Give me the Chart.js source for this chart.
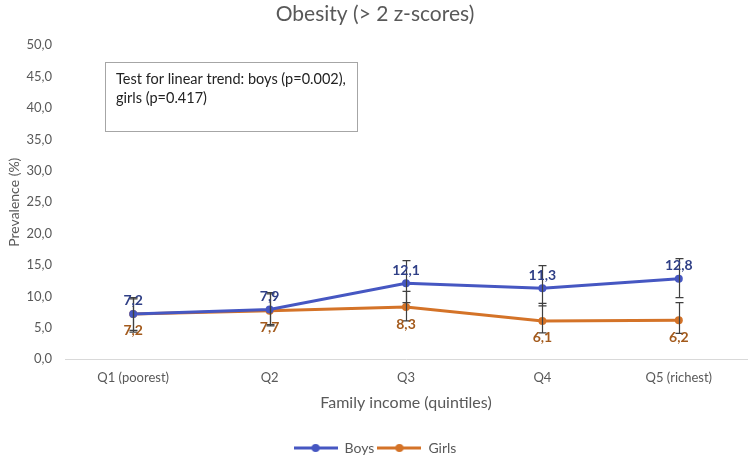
<!DOCTYPE html>
<html>
<head>
<meta charset="utf-8">
<script src="https://cdn.jsdelivr.net/npm/chart.js@4"></script>
<style>
  html, body { margin: 0; padding: 0; background: #fff; }
  #wrap { width: 751px; height: 457px; }
</style>
</head>
<body>
<div id="wrap"><canvas id="chart"></canvas></div>
<script>
var categories = ["Q1 (poorest)", "Q2", "Q3", "Q4", "Q5 (richest)"];
var boys = [7.2, 7.9, 12.1, 11.3, 12.8];
var girls = [7.2, 7.7, 8.3, 6.1, 6.2];
// confidence limits
var boysLow = [4.6, 5.5, 9.0, 8.5, 9.8];
var boysHigh = [9.8, 10.6, 15.7, 14.9, 16.0];
var girlsLow = [4.3, 5.3, 6.1, 4.2, 4.1];
var girlsHigh = [9.6, 10.4, 10.8, 8.9, 9.0];
var yTicks = [0, 5, 10, 15, 20, 25, 30, 35, 40, 45, 50];
var noteLines = ["Test for linear trend: boys (p=0.002),", "girls (p=0.417)"];

var FONT = "Lato, 'Open Sans', sans-serif";
var blue = "#4657C2";
var orange = "#D47328";

function legendIcon(color) {
  var c = document.createElement("canvas");
  c.width = 44; c.height = 10;
  var g = c.getContext("2d");
  g.strokeStyle = color; g.lineWidth = 3;
  g.beginPath(); g.moveTo(0, 5); g.lineTo(44, 5); g.stroke();
  g.fillStyle = color;
  g.beginPath(); g.arc(22, 5, 4, 0, Math.PI * 2); g.fill();
  return c;
}
var icons = [legendIcon(blue), legendIcon(orange)];

var errorBars = {
  id: "errorBars",
  afterDatasetsDraw: function(chart) {
    var ctx = chart.ctx;
    var x = chart.scales.x, y = chart.scales.y;
    var sets = [[boysLow, boysHigh], [girlsLow, girlsHigh]];
    ctx.save();
    ctx.strokeStyle = "#3f3f3f";
    ctx.lineWidth = 1.2;
    sets.forEach(function(s) {
      for (var i = 0; i < categories.length; i++) {
        var px = Math.round(x.getPixelForValue(i)) + 0.5;
        var lo = y.getPixelForValue(s[0][i]);
        var hi = y.getPixelForValue(s[1][i]);
        ctx.beginPath();
        ctx.moveTo(px, lo); ctx.lineTo(px, hi);
        ctx.moveTo(px - 4, lo); ctx.lineTo(px + 4, lo);
        ctx.moveTo(px - 4, hi); ctx.lineTo(px + 4, hi);
        ctx.stroke();
      }
    });
    ctx.restore();
  }
};

var valueLabels = {
  id: "valueLabels",
  afterDraw: function(chart) {
    var ctx = chart.ctx;
    ctx.save();
    ctx.font = "bold 14px " + FONT;
    ctx.textAlign = "center";
    ctx.textBaseline = "middle";
    chart.getDatasetMeta(0).data.forEach(function(p, i) {
      ctx.fillStyle = "#2F3F86";
      ctx.fillText(boys[i].toFixed(1).replace(".", ","), p.x, p.y - 13);
    });
    chart.getDatasetMeta(1).data.forEach(function(p, i) {
      ctx.fillStyle = "#A35A1C";
      ctx.fillText(girls[i].toFixed(1).replace(".", ","), p.x, p.y + 17);
    });
    ctx.restore();
  }
};

var noteBox = {
  id: "noteBox",
  afterDraw: function(chart) {
    var ctx = chart.ctx;
    ctx.save();
    ctx.strokeStyle = "#a6a6a6";
    ctx.lineWidth = 1;
    ctx.strokeRect(105.5, 62.5, 252, 69);
    ctx.fillStyle = "#222";
    ctx.font = "14.5px " + FONT;
    ctx.textBaseline = "middle";
    noteLines.forEach(function(t, i) {
      ctx.fillText(t, 116, 79 + i * 19);
    });
    ctx.restore();
  }
};

new Chart(document.getElementById("chart"), {
  type: "line",
  data: {
    labels: categories,
    datasets: [
      { label: "Boys", data: boys, borderColor: blue, backgroundColor: blue,
        borderWidth: 3, pointRadius: 4, pointBackgroundColor: blue, pointBorderWidth: 0 },
      { label: "Girls", data: girls, borderColor: orange, backgroundColor: orange,
        borderWidth: 3, pointRadius: 4, pointBackgroundColor: orange, pointBorderWidth: 0 }
    ]
  },
  options: {
    responsive: true,
    maintainAspectRatio: false,
    animation: false,
    layout: { padding: { left: 0, right: 1, top: 0, bottom: -8 } },
    plugins: {
      title: {
        display: true,
        text: "Obesity (> 2 z-scores)",
        color: "#595959",
        font: { family: FONT, size: 21, weight: "normal" },
        padding: { top: 2, bottom: 18 }
      },
      legend: {
        position: "bottom",
        labels: {
          color: "#595959",
          font: { family: FONT, size: 14 },
          usePointStyle: true,
          pointStyleWidth: 44,
          padding: 3,
          generateLabels: function(chart) {
            var items = Chart.defaults.plugins.legend.labels.generateLabels(chart);
            items.forEach(function(it, i) { it.pointStyle = icons[i]; });
            return items;
          }
        }
      },
      tooltip: { enabled: false }
    },
    scales: {
      x: {
        offset: true,
        grid: { display: false },
        border: { color: "#d9d9d9", width: 1 },
        ticks: { color: "#595959", font: { family: FONT, size: 13 }, padding: 3 },
        title: { display: true, text: "Family income (quintiles)", color: "#595959",
                 font: { family: FONT, size: 16 }, padding: { top: 4, bottom: 26 } }
      },
      y: {
        min: 0, max: 50,
        afterBuildTicks: function(s) { s.ticks = yTicks.map(function(v) { return { value: v }; }); },
        grid: { display: false },
        border: { display: false },
        ticks: { color: "#595959", font: { family: FONT, size: 13 }, padding: 5,
                 callback: function(v) { return Number(v).toFixed(1).replace(".", ","); } },
        title: { display: true, text: "Prevalence (%)", color: "#595959",
                 font: { family: FONT, size: 14 }, padding: { top: 6, bottom: 0 } },
        afterFit: function(s) { s.width = 65; }
      }
    }
  },
  plugins: [errorBars, valueLabels, noteBox]
});
</script>
</body>
</html>
